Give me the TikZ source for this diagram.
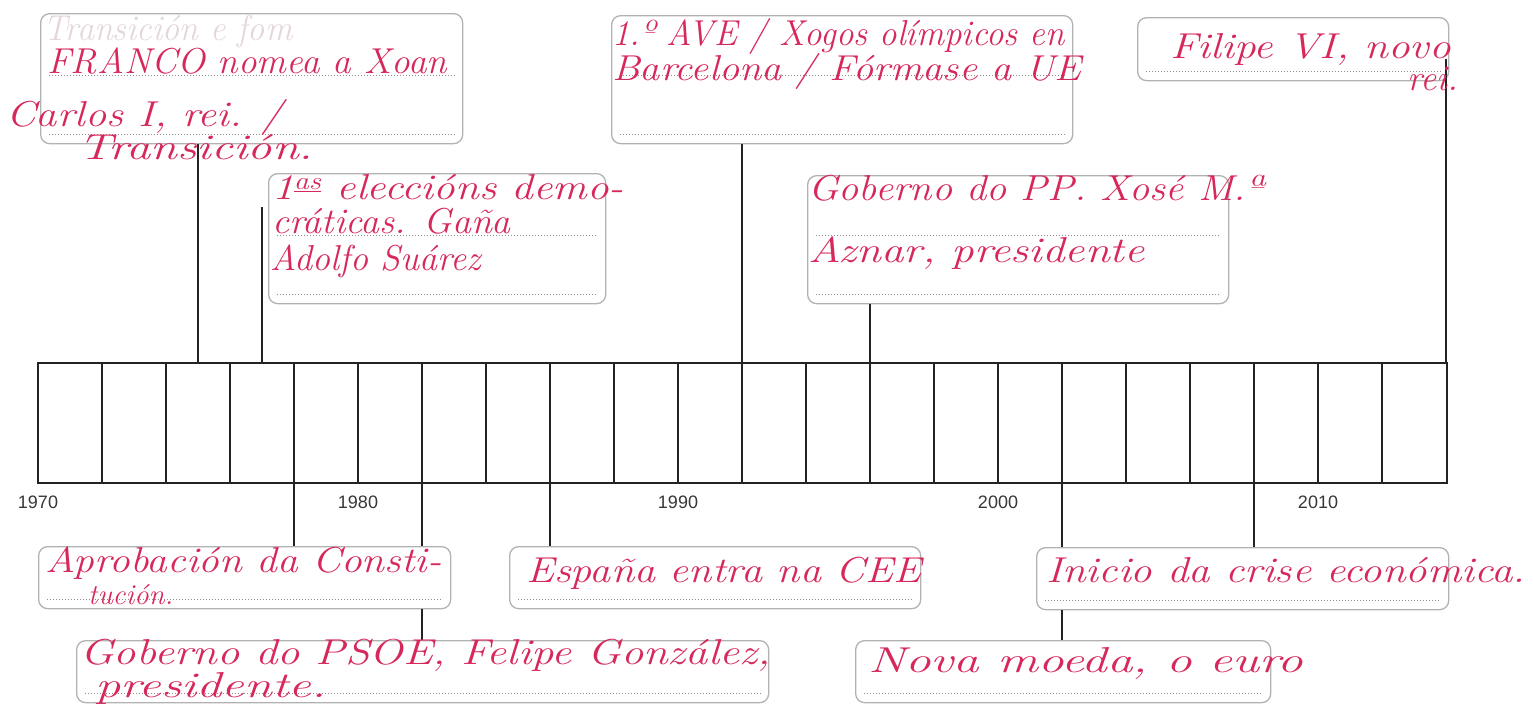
\documentclass[tikz,border=0pt]{standalone}
\usepackage{fontspec}
\setsansfont{Liberation Sans}
\usetikzlibrary{calc,positioning}
\definecolor{inkred}{RGB}{214,40,90}
\definecolor{ghost}{RGB}{228,214,219}
\definecolor{boxgray}{RGB}{178,178,178}
\definecolor{dotgray}{RGB}{140,140,140}
\definecolor{barblack}{RGB}{35,35,35}
\definecolor{yeargray}{RGB}{55,55,55}
\newcommand{\hand}{\fontsize{36}{40}\selectfont\itshape}
\newcommand{\hw}[2]{\scalebox{#1}[1]{#2}}

\begin{document}
\begin{tikzpicture}[x=1pt, y=-1pt,
	box/.style={draw=boxgray, line width=1.3pt, rounded corners=9pt, anchor=north west, inner sep=0pt},
	ink/.style={text=inkred, font=\hand, anchor=base west, inner sep=0pt},
	bar/.style={draw=barblack, line width=2pt},
	stem/.style={draw=barblack, line width=1.8pt},
	dots/.style={draw=dotgray, line width=1pt, dotted},
	yearlbl/.style={text=yeargray, font=\sffamily\fontsize{18}{20}\selectfont, inner sep=0pt}]
	\useasboundingbox (0,0) rectangle (1533,726);
	\draw[bar] (38,363) rectangle (1447,483);
	\foreach \i in {1,...,21} \draw[bar] ({38+64*\i},363) -- ({38+64*\i},483);
	\foreach \a in {1970,...,2014} {
		\coordinate (up\a) at ({38+32*(\a-1970)},363);
		\coordinate (dn\a) at ({38+32*(\a-1970)},483);
	}
	\foreach \a in {1970,1980,...,2010} \node[yearlbl] (lbl\a) at ({38+32*(\a-1970)},502) {\a};
	\node[box, minimum width=422, minimum height=130] (franco) at (40,13) {};
	\node[box, minimum width=337, minimum height=130] (eleccions) at (268,173) {};
	\node[box, minimum width=461, minimum height=128] (ave) at (611,15) {};
	\node[box, minimum width=421, minimum height=128] (aznar) at (807,175) {};
	\node[box, minimum width=311, minimum height=63] (filipe) at (1137,17) {};
	\node[box, minimum width=412, minimum height=62] (constitucion) at (38,546) {};
	\node[box, minimum width=692, minimum height=62] (psoe) at (76,640) {};
	\node[box, minimum width=411, minimum height=62] (cee) at (509,546) {};
	\node[box, minimum width=412, minimum height=62] (crise) at (1036,547) {};
	\node[box, minimum width=415, minimum height=62] (euro) at (855,640) {};
	\foreach \b in {franco,eleccions,ave,aznar,filipe,constitucion,psoe,cee,crise,euro}
		\draw[dots] ($(\b.south west)+(9,-10)$) -- ($(\b.south east)+(-9,-10)$);
	\foreach \b in {franco,eleccions,ave,aznar}
		\draw[dots] ($(\b.south west)+(9,-69)$) -- ($(\b.south east)+(-9,-69)$);
	\coordinate (el1977) at (262,207);
	\coordinate (fi2014) at ($(filipe.east -| up2014)+(0,10)$);
	\draw[stem] (franco.south -| up1975) -- (up1975);
	\draw[stem] (el1977) -- (up1977);
	\draw[stem] (ave.south -| up1992) -- (up1992);
	\draw[stem] (aznar.south -| up1996) -- (up1996);
	\draw[stem] (fi2014) -- (up2014);
	\draw[stem] (dn1978) -- (dn1978 |- constitucion.north);
	\draw[stem] (dn1982) -- (dn1982 |- constitucion.north);
	\draw[stem] (dn1982 |- constitucion.south) -- (dn1982 |- psoe.north);
	\draw[stem] (dn1986) -- (dn1986 |- cee.north);
	\draw[stem] (dn2002) -- (dn2002 |- crise.north);
	\draw[stem] (dn2002 |- crise.south) -- (dn2002 |- euro.north);
	\draw[stem] (dn2008) -- (dn2008 |- crise.north);
	\node[ink, text=ghost] (franco-0) at (43,40) {\hw{0.95}{Transición e fom}};
	\node[ink] (franco-1) at (47,73) {\hw{1.03}{FRANCO nomea a Xoan}};
	\node[ink] (franco-2) at (6,126) {\hw{1.18}{Carlos I, rei. /}};
	\node[ink] (franco-3) at (78,159) {\hw{1.35}{Transición.}};
	\node[ink] (eleccions-1) at (272,199) {\hw{1.2}{1\textsuperscript{\underline{as}} eleccións demo-}};
	\node[ink] (eleccions-2) at (272,233) {\hw{1.05}{cráticas. Gaña}};
	\node[ink] (eleccions-3) at (270,270) {Adolfo Suárez};
	\node[ink] (ave-1) at (612,45) {\hw{0.97}{1.º AVE / Xogos olímpicos en}};
	\node[ink] (ave-2) at (612,80) {\hw{1.12}{Barcelona / Fórmase a UE}};
	\node[ink] (filipe-1) at (1170,58) {\hw{1.2}{Filipe VI, novo}};
	\node[ink] (filipe-2) at (1407,90) {rei.};
	\node[ink] (aznar-1) at (808,200) {\hw{1.12}{Goberno do PP. Xosé M.ª}};
	\node[ink] (aznar-2) at (808,262) {\hw{1.25}{Aznar, presidente}};
	\node[ink] (constitucion-1) at (45,572) {\hw{1.15}{Aprobación da Consti-}};
	\node[ink] (constitucion-2) at (88,604) {\scalebox{0.8}{tución.}};
	\node[ink] (psoe-1) at (80,664) {\hw{1.24}{Goberno do PSOE, Felipe González,}};
	\node[ink] (psoe-2) at (95,697) {\hw{1.4}{presidente.}};
	\node[ink] (cee-1) at (526,582) {\hw{1.17}{España entra na CEE}};
	\node[ink] (crise-1) at (1046,582) {\hw{1.19}{Inicio da crise económica.}};
	\node[ink] (euro-1) at (868,672) {\hw{1.42}{Nova moeda, o euro}};
\end{tikzpicture}
\end{document}
